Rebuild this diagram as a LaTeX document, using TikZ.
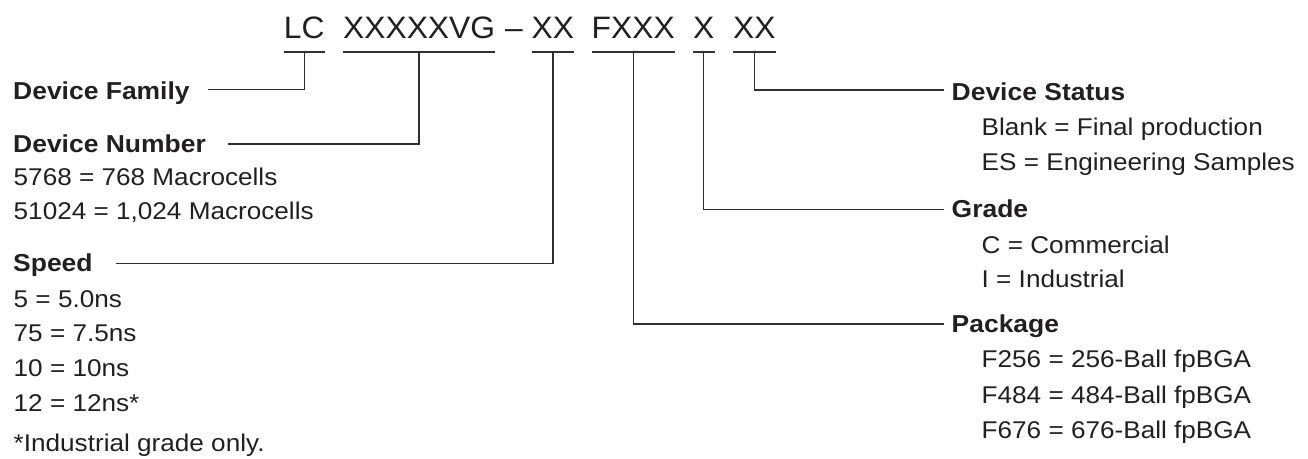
\documentclass[tikz,border=0pt]{standalone}
\usepackage{fontspec}
\setmainfont{Liberation Sans}[FakeStretch=1.08]
\newfontfamily\codefont{Liberation Sans}[FakeStretch=1.025]
\definecolor{ink}{HTML}{231F20}
\definecolor{wirec}{HTML}{303030}
\begin{document}
\begin{tikzpicture}[x=1pt,y=-1pt,
  code/.style={font=\codefont\fontsize{31}{33}\selectfont, text=ink, inner sep=0pt, text depth=13.2pt, anchor=base west},
  head/.style={font=\fontsize{24.5}{27}\selectfont\bfseries, text=ink, inner sep=0pt, anchor=base west},
  item/.style={font=\fontsize{24.2}{27}\selectfont, text=ink, inner sep=0pt, anchor=base west},
  wire/.style={draw=wirec, line width=1.3pt}]
\useasboundingbox (0,0) rectangle (1308,458);

% ordering code
\node[code] (lc)  at (283.7,38.5) {LC};
\node[code] (num) at (343,38.5) {XXXXXVG};
\node[code, text depth=0pt] (dash) at (505,38.5) {–};
\node[code] (spd) at (531.5,38.5) {XX};
\node[code] (pkg) at (591.5,38.5) {FXXX};
\node[code] (grd) at (693,38.5) {X};
\node[code] (sts) at (733,38.5) {XX};

\foreach \n in {lc,num,spd,pkg,grd,sts}
  \draw[wire] (\n.south west) -- (\n.south east);

% left column
\node[head] (hfam) at (13,99) {Device Family};
\node[head] (hnum) at (13,152) {Device Number};
\node[item] (n1) at (13.5,185) {5768 = 768 Macrocells};
\node[item] (n2) at (13.5,219) {51024 = 1,024 Macrocells};
\node[head] (hspd) at (13,271) {Speed};
\node[item] (s1) at (13.5,307) {5 = 5.0ns};
\node[item] (s2) at (13.5,341.7) {75 = 7.5ns};
\node[item] (s3) at (13.5,376.3) {10 = 10ns};
\node[item] (s4) at (13.5,411) {12 = 12ns*};
\node[item] (fn) at (13.5,451) {*Industrial grade only.};

% right column
\node[head] (hsts) at (951.5,100) {Device Status};
\node[item] (t1) at (981.5,135) {Blank = Final production};
\node[item] (t2) at (981.5,170.5) {ES = Engineering Samples};
\node[head] (hgrd) at (951.5,217.3) {Grade};
\node[item] (g1) at (981.5,253.3) {C = Commercial};
\node[item] (g2) at (981.5,287.3) {I = Industrial};
\node[head] (hpkg) at (951.5,332.7) {Package};
\node[item] (p1) at (981.5,367.3) {F256 = 256-Ball fpBGA};
\node[item] (p2) at (981.5,403.3) {F484 = 484-Ball fpBGA};
\node[item] (p3) at (981.5,438.3) {F676 = 676-Ball fpBGA};

% free ends of the connectors
\coordinate (efam) at (207.7,89.3);
\coordinate (enum) at (228,144);
\coordinate (espd) at (116,263.3);
\coordinate (ests) at (944,90);
\coordinate (egrd) at (944,209.3);
\coordinate (epkg) at (944,324);

\draw[wire] (lc.south)  |- (efam);
\draw[wire] (num.south) |- (enum);
\draw[wire] (spd.south) |- (espd);
\draw[wire] (sts.south) |- (ests);
\draw[wire] (grd.south) |- (egrd);
\draw[wire] (pkg.south) |- (epkg);
\end{tikzpicture}
\end{document}
